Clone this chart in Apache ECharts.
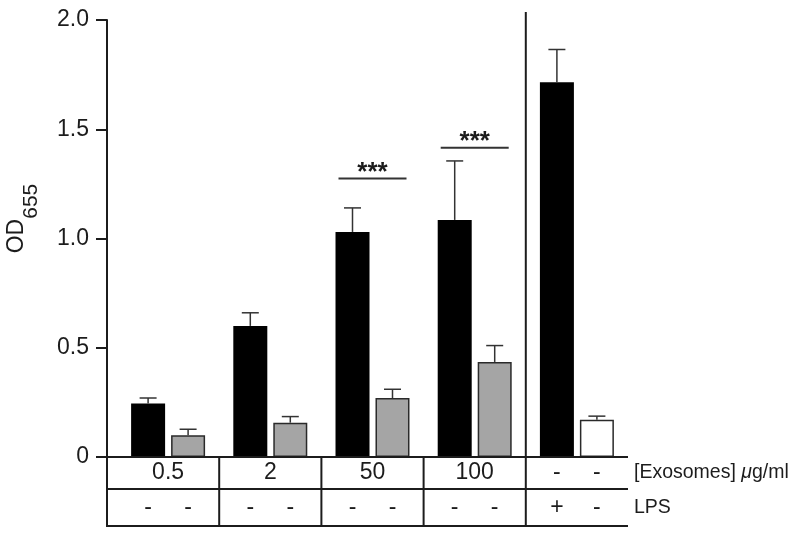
<!DOCTYPE html>
<html>
<head>
<meta charset="utf-8">
<title>OD655</title>
<script src="https://cdn.jsdelivr.net/npm/echarts@6/dist/echarts.min.js"></script>
<style>
  html, body { margin: 0; padding: 0; background: #fff; }
  #chart { width: 800px; height: 541px; }
</style>
</head>
<body>
<div id="chart"></div>
<script>
// data
var groups = ['0.5', '2', '50', '100', 'ctrl'];
var exoRow = ['0.5', '2', '50', '100', ['-', '-']];
var lpsRow = [['-', '-'], ['-', '-'], ['-', '-'], ['-', '-'], ['+', '-']];
var blackMean = [0.245, 0.60, 1.03, 1.085, 1.715];
var blackErr = [0.025, 0.06, 0.11, 0.27, 0.15];
var greyMean = [0.10, 0.157, 0.27, 0.435, 0.17];
var greyErr = [0.027, 0.028, 0.04, 0.075, 0.017];
var signif = [[2, 1.275, '***'], [3, 1.415, '***']];
var yTicks = [0, 0.5, 1.0, 1.5, 2.0];

var FONT = '"Liberation Sans", Arial, Helvetica, sans-serif';
var INK = '#1c1c1c';
var BAR_W = 34, BAR_GAP = 6;
var GRID = { left: 117, right: 172, top: 20, bottom: 84, outerBoundsMode: 'none', containLabel: false };
var AXIS_OFFSET = 10;
var ROW1 = 32, ROW2 = 37;

var chart = echarts.init(document.getElementById('chart'));

function errorBars(side) {
  return function (params, api) {
    var base = api.coord([api.value(0), api.value(1)]);
    var top = api.coord([api.value(0), api.value(1) + api.value(2)]);
    var x = base[0] + side * (BAR_W + BAR_GAP) / 2;
    var st = { stroke: '#333', lineWidth: 1.5 };
    return {
      type: 'group',
      children: [
        { type: 'line', shape: { x1: x, y1: base[1], x2: x, y2: top[1] }, style: st },
        { type: 'line', shape: { x1: x - 8.5, y1: top[1], x2: x + 8.5, y2: top[1] }, style: st }
      ]
    };
  };
}

function sigMarks(params, api) {
  var c = api.coord([api.value(0), api.value(1)]);
  return {
    type: 'group',
    children: [
      { type: 'line', shape: { x1: c[0] - 34, y1: c[1], x2: c[0] + 34, y2: c[1] },
        style: { stroke: '#333', lineWidth: 2 } },
      { type: 'text', x: c[0], y: c[1] - 6,
        style: { text: signif[params.dataIndex][2], fontSize: 26, fontWeight: 'bold', fontFamily: FONT,
                 fill: INK, align: 'center', verticalAlign: 'middle',
                 textAlign: 'center', textVerticalAlign: 'middle' } }
    ]
  };
}

var option = {
  animation: false,
  grid: GRID,
  xAxis: {
    type: 'category',
    data: groups,
    axisLine: { show: false },
    axisTick: { show: false },
    axisLabel: { show: false },
    splitLine: { show: false }
  },
  yAxis: {
    type: 'value',
    min: yTicks[0],
    max: yTicks[yTicks.length - 1],
    interval: yTicks[1] - yTicks[0],
    offset: AXIS_OFFSET,
    name: '{a|OD}{b|655}',
    nameLocation: 'middle',
    nameRotate: 90,
    nameGap: 65,
    nameTextStyle: {
      padding: [0, 0, 0, 40],
      rich: {
        a: { fontSize: 23, verticalAlign: 'top', fontFamily: FONT, color: INK },
        b: { fontSize: 21, lineHeight: 37, verticalAlign: 'bottom', fontFamily: FONT, color: INK }
      }
    },
    axisLine: { show: true, lineStyle: { color: INK, width: 2 } },
    axisTick: { show: true, length: 11, lineStyle: { color: INK, width: 2 } },
    axisLabel: {
      margin: 18,
      fontSize: 23,
      fontFamily: FONT,
      color: INK,
      formatter: function (v) { return v === 0 ? '0' : v.toFixed(1); }
    },
    splitLine: { show: false }
  },
  series: [
    {
      type: 'bar', name: 'exosomes', data: blackMean,
      barWidth: BAR_W, barGap: (BAR_GAP / BAR_W * 100).toFixed(1) + '%',
      itemStyle: { color: '#000' }
    },
    {
      type: 'bar', name: 'control',
      data: greyMean.map(function (v, i) {
        return i === 4 ? { value: v, itemStyle: { color: '#fff' } } : v;
      }),
      barWidth: BAR_W,
      itemStyle: { color: '#a5a5a5', borderColor: '#2a2a2a', borderWidth: 1.5 }
    },
    {
      type: 'custom', renderItem: errorBars(-1), z: 3,
      encode: { x: 0, y: 1 },
      data: blackMean.map(function (v, i) { return [i, v, blackErr[i]]; })
    },
    {
      type: 'custom', renderItem: errorBars(1), z: 3,
      encode: { x: 0, y: 1 },
      data: greyMean.map(function (v, i) { return [i, v, greyErr[i]]; })
    },
    {
      type: 'custom', renderItem: sigMarks, z: 3,
      encode: { x: 0, y: 1 },
      data: signif.map(function (s) { return [s[0], s[1]]; })
    }
  ]
};
chart.setOption(option);

// table under the axis, positioned from the category scale
function px(i, v) { return chart.convertToPixel({ gridIndex: 0 }, [i, v]); }
var y0 = px(0, 0)[1];
var yTop = px(0, yTicks[yTicks.length - 1])[1];
var half = (px(1, 0)[0] - px(0, 0)[0]) / 2;
var axisX = px(0, 0)[0] - half - AXIS_OFFSET;
var rightX = px(groups.length - 1, 0)[0] + half;
var yMid1 = y0 + ROW1 / 2, yMid2 = y0 + ROW1 + ROW2 / 2, yEnd = y0 + ROW1 + ROW2;
var lineSt = { stroke: INK, lineWidth: 2 };
var els = [];

function hline(y) {
  els.push({ type: 'line', shape: { x1: axisX - 1, y1: y, x2: rightX, y2: y }, style: lineSt, z: 5 });
}
function txt(x, y, s, size) {
  els.push({ type: 'text', x: x, y: y, z: 5,
    style: { text: s, fontSize: size || 23, fontFamily: FONT, fill: INK,
             align: 'center', verticalAlign: 'middle', textAlign: 'center', textVerticalAlign: 'middle' } });
}

els.push({ type: 'line', shape: { x1: axisX, y1: y0, x2: axisX, y2: yEnd + 1 }, style: lineSt, z: 5 });
hline(y0); hline(y0 + ROW1); hline(yEnd);

groups.forEach(function (g, i) {
  var cx = px(i, 0)[0];
  if (i < groups.length - 1) {
    var bx = cx + half;
    var top = i === groups.length - 2 ? yTop - 8 : y0;
    els.push({ type: 'line', shape: { x1: bx, y1: top, x2: bx, y2: yEnd + 1 }, style: lineSt, z: 5 });
  }
  var off = (BAR_W + BAR_GAP) / 2;
  if (Array.isArray(exoRow[i])) {
    txt(cx - off, yMid1, exoRow[i][0]);
    txt(cx + off, yMid1, exoRow[i][1]);
  } else {
    txt(cx, yMid1, exoRow[i]);
  }
  txt(cx - off, yMid2, lpsRow[i][0]);
  txt(cx + off, yMid2, lpsRow[i][1]);
});

els.push({ type: 'text', x: rightX + 6, y: yMid1, z: 5,
  style: { text: '[Exosomes] {i|μ}g/ml', fontSize: 19.5, fontFamily: FONT, fill: INK,
           align: 'left', verticalAlign: 'middle', textAlign: 'left', textVerticalAlign: 'middle',
           rich: { i: { fontSize: 19.5, fontStyle: 'italic', fontFamily: FONT, fill: INK } } } });
els.push({ type: 'text', x: rightX + 6, y: yMid2, z: 5,
  style: { text: 'LPS', fontSize: 19.5, fontFamily: FONT, fill: INK,
           align: 'left', verticalAlign: 'middle', textAlign: 'left', textVerticalAlign: 'middle' } });

chart.setOption({ graphic: els });
</script>
</body>
</html>
